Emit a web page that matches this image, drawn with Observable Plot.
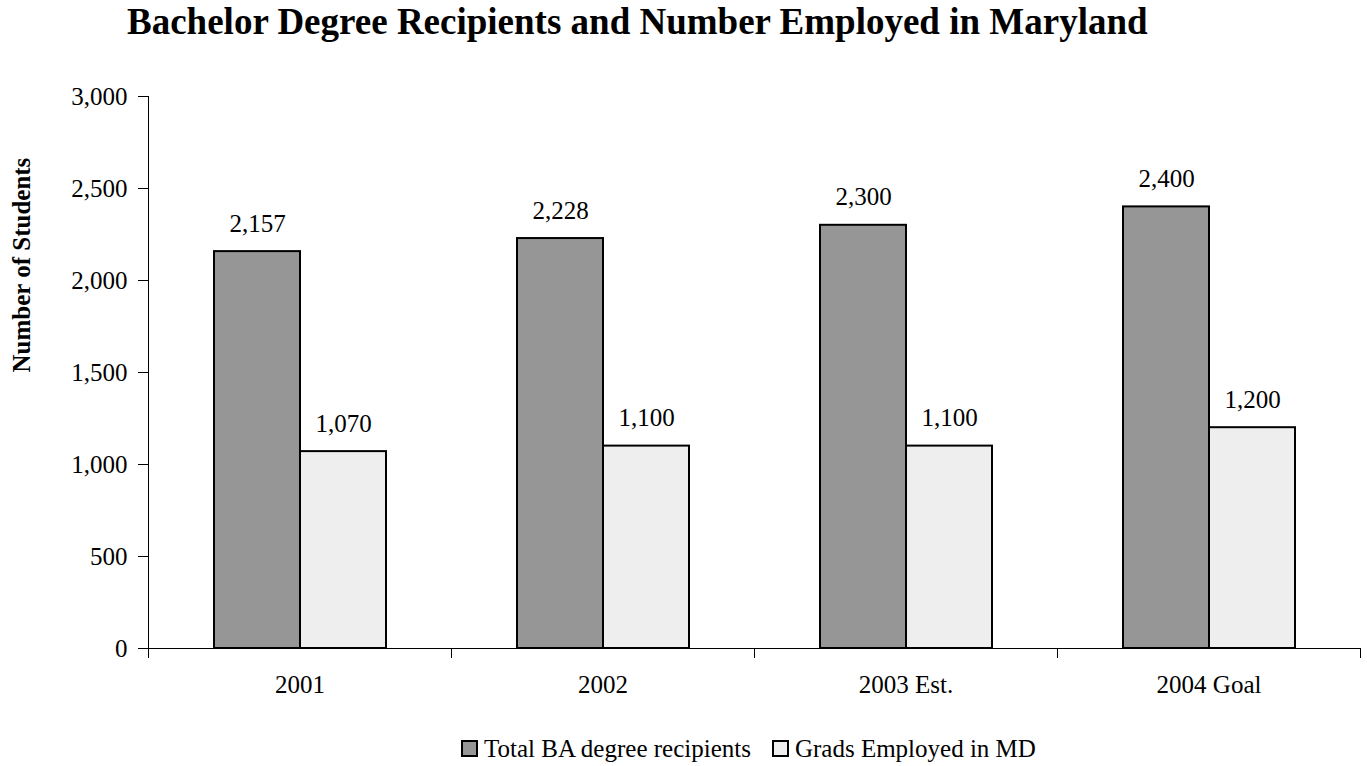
<!DOCTYPE html>
<html><head><meta charset="utf-8">
<script src="https://cdn.jsdelivr.net/npm/d3@7"></script>
<script src="https://cdn.jsdelivr.net/npm/@observablehq/plot@0.6"></script>
<style>
body{margin:0;background:#fff;font-family:"Liberation Serif",serif;color:#000}
#wrap{position:relative;width:1367px;height:766px;overflow:hidden;background:#fff}
#title{position:absolute;left:127px;top:4px;font-size:37px;line-height:36px;font-weight:bold;white-space:nowrap}
#chart{position:absolute;left:0;top:56px}
#legend{position:absolute;left:461px;top:736px;display:flex;align-items:center;font-size:25px;line-height:25px;white-space:nowrap}
.sw{width:13px;height:13px;border:2px solid #000;margin-right:6px}
svg text{font-family:"Liberation Serif",serif}
</style></head><body>
<div id="wrap"><div id="title"></div><div id="chart"></div><div id="legend"></div></div>
<script>
const categories = ["2001", "2002", "2003 Est.", "2004 Goal"];
const totalBA = [2157, 2228, 2300, 2400];
const gradsMD = [1070, 1100, 1100, 1200];
const seriesNames = ["Total BA degree recipients", "Grads Employed in MD"];
const seriesColors = ["#969696", "#eeeeee"];
const yTicks = [0, 500, 1000, 1500, 2000, 2500, 3000];
const titleText = "Bachelor Degree Recipients and Number Employed in Maryland";
const yLabel = "Number of Students";

const rows = [];
categories.forEach((c, i) => {
  rows.push({cat: c, series: seriesNames[0], value: totalBA[i]});
  rows.push({cat: c, series: seriesNames[1], value: gradsMD[i]});
});

const H = 660, MT = 40, MB = 68;
const frameH = H - MT - MB;
const fmt = d3.format(",");

const plot = Plot.plot({
  width: 1367,
  height: H,
  marginTop: MT,
  marginBottom: MB,
  marginLeft: 147,
  marginRight: 7,
  style: {fontFamily: "Liberation Serif, serif", fontSize: "25px", color: "#000", background: "#fff", overflow: "visible"},
  fx: {domain: categories, padding: 0},
  x: {domain: seriesNames, paddingInner: 0, paddingOuter: 0.743, axis: null},
  y: {domain: [0, 3000]},
  color: {domain: seriesNames, range: seriesColors},
  marks: [
    Plot.ruleY([0], {stroke: "#000", strokeWidth: 1}),
    Plot.barY(rows, {fx: "cat", x: "series", y: "value", fill: "series", stroke: "#000", strokeWidth: 2}),
    Plot.text(rows, {fx: "cat", x: "series", y: "value", text: d => fmt(d.value), dy: -20, lineAnchor: "bottom", fontSize: 25, fill: "#000"}),
    Plot.frame({anchor: "left", facetAnchor: "left", stroke: "#000", strokeWidth: 1}),
    Plot.frame({anchor: "left", insetTop: frameH, insetBottom: -9, stroke: "#000", strokeWidth: 1}),
    Plot.frame({anchor: "right", facetAnchor: "right", insetTop: frameH, insetBottom: -9, stroke: "#000", strokeWidth: 1}),
    Plot.axisY({ticks: yTicks, tickFormat: fmt, tickSize: 10, tickPadding: 11, label: null, fontSize: 25}),
    Plot.axisFx({anchor: "bottom", tickSize: 0, tickPadding: 27, label: null, fontSize: 25}),
    Plot.text([yLabel], {text: d => d, frameAnchor: "left", dx: -127, rotate: -90, fontSize: 25, fontWeight: "bold", facetAnchor: "left", fill: "#000"})
  ]
});
document.getElementById("chart").appendChild(plot);
document.getElementById("title").textContent = titleText;

const leg = document.getElementById("legend");
seriesNames.forEach((s, i) => {
  const sw = document.createElement("span");
  sw.className = "sw";
  sw.style.background = seriesColors[i];
  const t = document.createElement("span");
  t.textContent = s;
  if (i === 0) t.style.marginRight = "21px";
  leg.appendChild(sw);
  leg.appendChild(t);
});
</script>
</body></html>
